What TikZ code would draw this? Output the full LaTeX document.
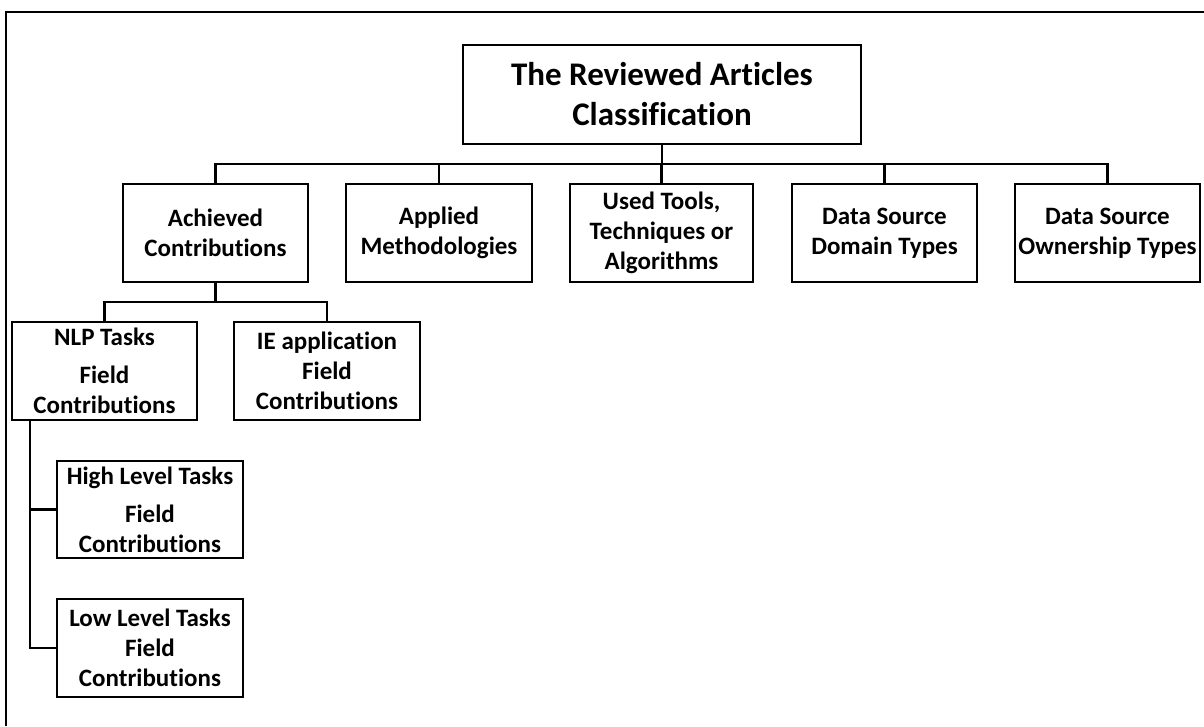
\documentclass[tikz,border=0pt]{standalone}
\usepackage{fontspec}
\setmainfont{Carlito}[Ligatures={NoCommon}]
\begin{document}
\begin{tikzpicture}[x=1pt,y=-1pt,
  box/.style={draw, line width=2.2pt, align=center, inner sep=0pt,
    minimum width=185pt, minimum height=98pt,
    font=\bfseries\fontsize{25}{30}\selectfont},
  conn/.style={line width=2.2pt},
  frame/.style={line width=2pt}]
\useasboundingbox (0,0) rectangle (1204,726);
\draw[frame] (6,726) -- (6,12) -- (1204,12);
\node[box, minimum width=398pt, minimum height=99pt, font=\bfseries\fontsize{33}{40}\selectfont] (root) at (662,94.5) {The Reviewed Articles\\Classification};
\node[box] (ach) at (215.5,233) {Achieved\\Contributions};
\node[box, minimum width=186pt] (app) at (439,233) {Applied\\Methodologies};
\node[box, minimum width=183pt] (used) at (661.5,233) {Used Tools,\\Techniques or\\Algorithms};
\node[box] (dom) at (884.5,233) {Data Source\\Domain Types};
\node[box] (own) at (1107.5,233) {Data Source\\Ownership Types};
\node[box] (nlp) at (104.5,371) {NLP Tasks\\[8pt]Field\\Contributions};
\node[box, minimum width=186pt] (ie) at (327,371) {IE application\\Field\\Contributions};
\node[box, minimum width=186pt, minimum height=97pt] (high) at (150,509.5) {High Level Tasks\\[8pt]Field\\Contributions};
\node[box, minimum width=186pt] (low) at (150,648) {Low Level Tasks\\Field\\Contributions};
\coordinate (bus1) at (0,164);
\coordinate (bus2) at (0,302);
\coordinate (tr) at (30,0);
\draw[conn] (root.south) -- (root.south |- bus1);
\draw[conn] (ach.north) -- (ach.north |- bus1) -| (own.north);
\draw[conn] (app.north) -- (app.north |- bus1);
\draw[conn] (used.north) -- (used.north |- bus1);
\draw[conn] (dom.north) -- (dom.north |- bus1);
\draw[conn] (ach.south) -- (ach.south |- bus2);
\draw[conn] (nlp.north) -- (nlp.north |- bus2) -| (ie.north);
\draw[conn] (nlp.south -| tr) |- (low.west);
\draw[conn] (high.west) -- (high.west -| tr);
\end{tikzpicture}
\end{document}
